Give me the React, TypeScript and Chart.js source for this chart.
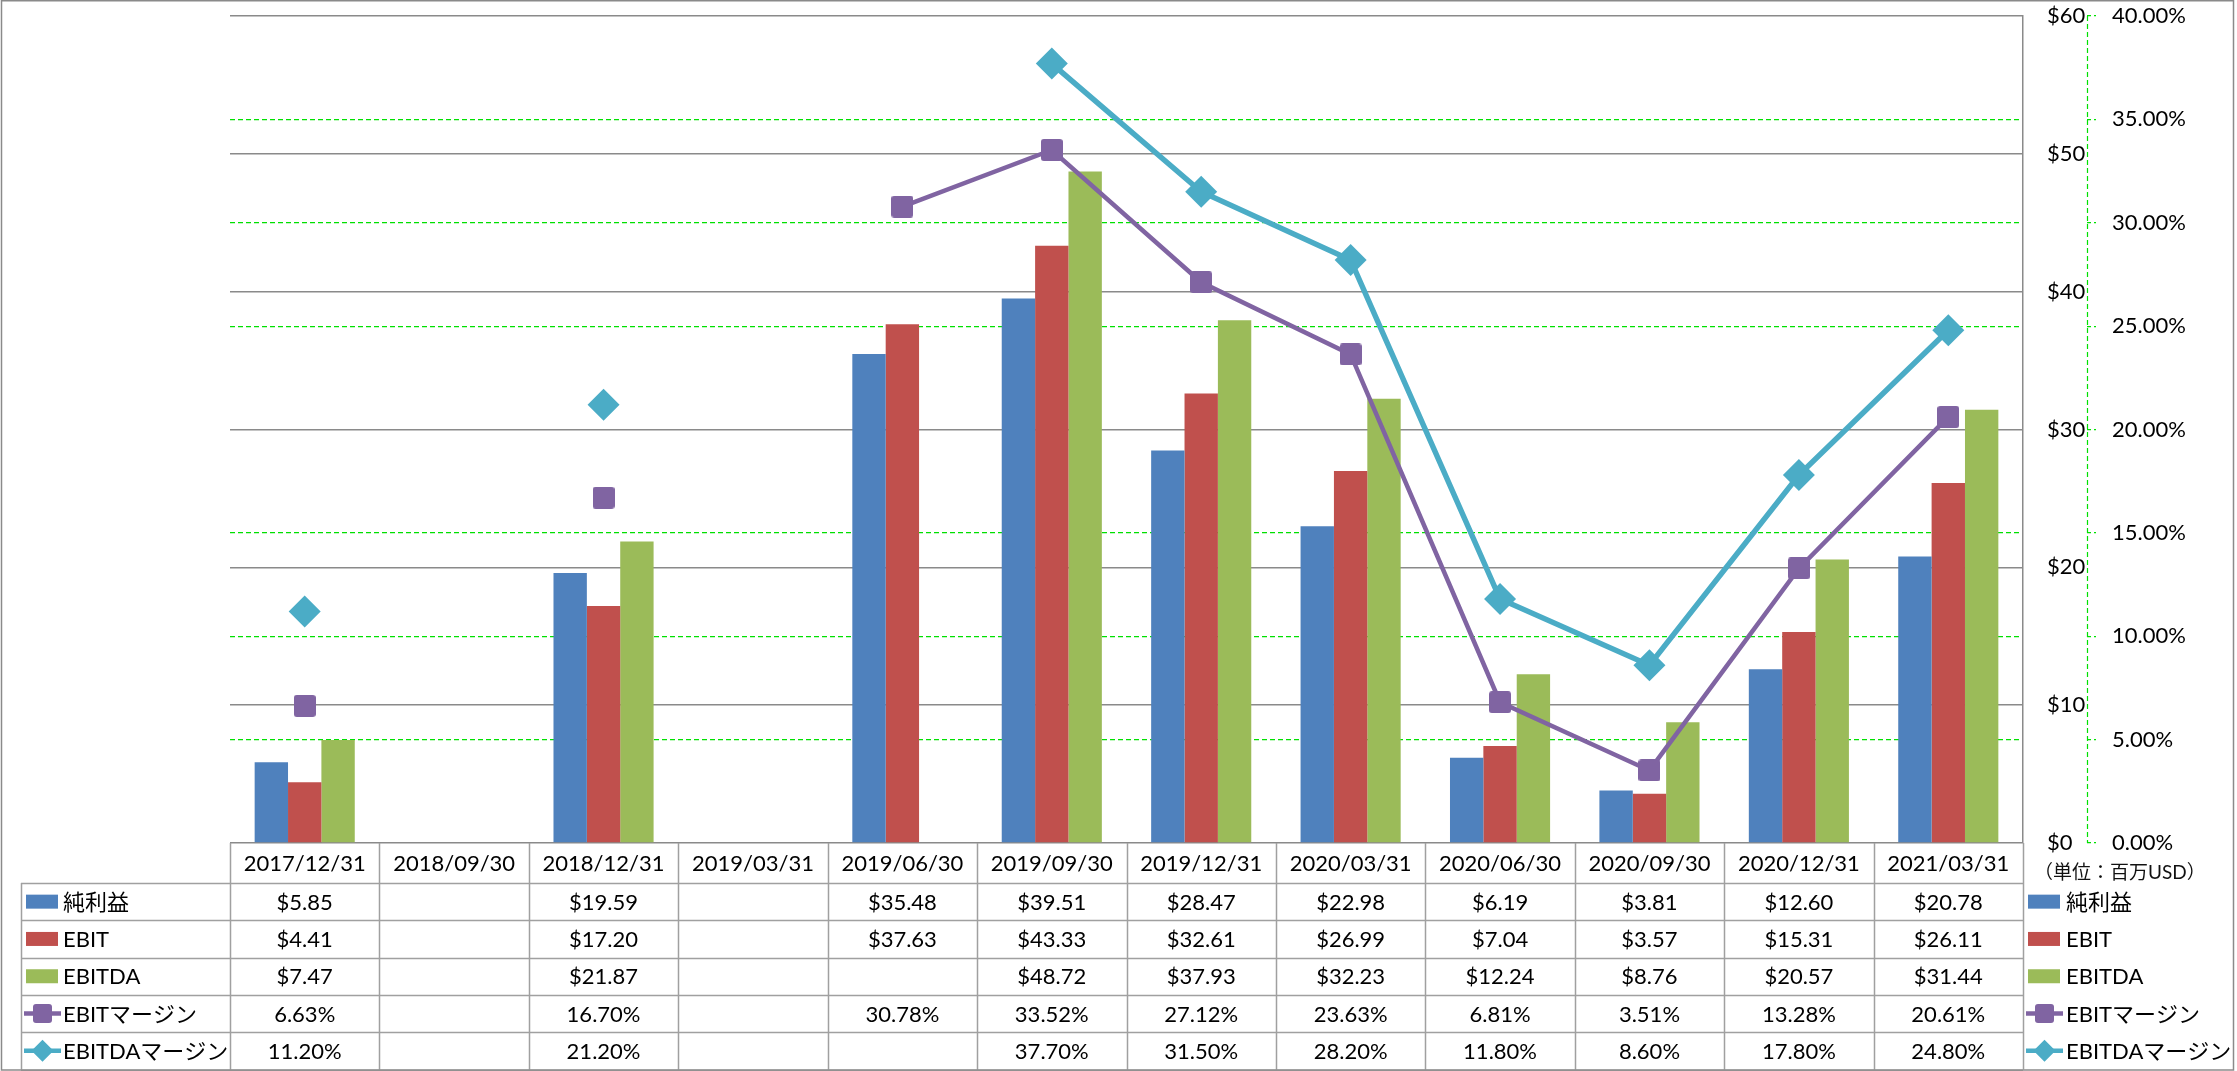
import React, { useEffect, useRef } from 'react';
import { Chart, registerables } from 'chart.js';

Chart.register(...registerables);

const categories = [
  '2017/12/31', '2018/09/30', '2018/12/31', '2019/03/31', '2019/06/30', '2019/09/30',
  '2019/12/31', '2020/03/31', '2020/06/30', '2020/09/30', '2020/12/31', '2021/03/31',
];
const netIncome = [5.85, null, 19.59, null, 35.48, 39.51, 28.47, 22.98, 6.19, 3.81, 12.6, 20.78];
const ebit = [4.41, null, 17.2, null, 37.63, 43.33, 32.61, 26.99, 7.04, 3.57, 15.31, 26.11];
const ebitda = [7.47, null, 21.87, null, null, 48.72, 37.93, 32.23, 12.24, 8.76, 20.57, 31.44];
const ebitMargin = [6.63, null, 16.7, null, 30.78, 33.52, 27.12, 23.63, 6.81, 3.51, 13.28, 20.61];
const ebitdaMargin = [11.2, null, 21.2, null, null, 37.7, 31.5, 28.2, 11.8, 8.6, 17.8, 24.8];

const seriesNames = ['純利益', 'EBIT', 'EBITDA', 'EBITマージン', 'EBITDAマージン'];
const unitLabel = '（単位：百万USD）';

const dollarAxis = { min: 0, max: 60, step: 10 };
const percentAxis = { min: 0, max: 40, step: 5 };

const COLORS = {
  blue: '#4F81BD',
  red: '#C0504D',
  green: '#9BBB59',
  purple: '#8064A2',
  cyan: '#4BACC6',
  grid: '#8A8A8A',
  table: '#A0A0A0',
  dash: '#00E000',
};

const W = 2237;
const H = 1071;
const FONT = 'Lato, "Noto Sans CJK JP", sans-serif';

const fmtDollar = (v: number | null) => (v == null ? '' : '$' + v.toFixed(2));
const fmtPct = (v: number | null) => (v == null ? '' : v.toFixed(2) + '%');

function roundRectPath(g: CanvasRenderingContext2D, l: number, t: number, s: number, r: number) {
  g.beginPath();
  g.moveTo(l + r, t);
  g.lineTo(l + s - r, t);
  g.quadraticCurveTo(l + s, t, l + s, t + r);
  g.lineTo(l + s, t + s - r);
  g.quadraticCurveTo(l + s, t + s, l + s - r, t + s);
  g.lineTo(l + r, t + s);
  g.quadraticCurveTo(l, t + s, l, t + s - r);
  g.lineTo(l, t + r);
  g.quadraticCurveTo(l, t, l + r, t);
  g.closePath();
}

function makeRoundSquare(size: number, r: number, color: string) {
  const c = document.createElement('canvas');
  c.width = size;
  c.height = size;
  const g = c.getContext('2d')!;
  g.fillStyle = color;
  roundRectPath(g, 0, 0, size, r);
  g.fill();
  return c;
}

function drawLegendSymbol(ctx: CanvasRenderingContext2D, idx: number, x0: number, cy: number) {
  const colors = [COLORS.blue, COLORS.red, COLORS.green, COLORS.purple, COLORS.cyan];
  const col = colors[idx];
  ctx.save();
  if (idx < 3) {
    ctx.fillStyle = col;
    ctx.fillRect(x0 + 2, cy - 7, 32, 14);
  } else {
    ctx.strokeStyle = col;
    ctx.lineWidth = 4.5;
    ctx.beginPath();
    ctx.moveTo(x0, cy);
    ctx.lineTo(x0 + 37, cy);
    ctx.stroke();
    ctx.fillStyle = col;
    const cx = x0 + 18.5;
    if (idx === 3) {
      roundRectPath(ctx, cx - 9.5, cy - 9.5, 19, 3);
      ctx.fill();
    } else {
      const d = 11;
      ctx.beginPath();
      ctx.moveTo(cx, cy - d);
      ctx.lineTo(cx + d, cy);
      ctx.lineTo(cx, cy + d);
      ctx.lineTo(cx - d, cy);
      ctx.closePath();
      ctx.fill();
    }
  }
  ctx.restore();
}

const tablePlugin = {
  id: 'dataTable',
  beforeDatasetsDraw(chart: any) {
    const { ctx, chartArea, scales } = chart;
    const x = Math.round(scales.y1.left) + 0.5;
    ctx.save();
    ctx.strokeStyle = COLORS.dash;
    ctx.lineWidth = 1.2;
    ctx.setLineDash([5, 3]);
    ctx.beginPath();
    ctx.moveTo(x, chartArea.top);
    ctx.lineTo(x, chartArea.bottom);
    ctx.stroke();
    ctx.restore();
  },
  afterDraw(chart: any) {
    const { ctx, chartArea, scales } = chart;
    const xs = scales.x;
    const left = chartArea.left;
    const right = chartArea.right;
    const top = chartArea.bottom;
    const n = categories.length;
    const colW = (right - left) / n;
    const headerH = 40;
    const headerBottom = top + headerH;
    const bottom = H - 1.5;
    const rowH = (bottom - headerBottom) / 5;
    const legendLeft = 21;

    ctx.save();
    ctx.strokeStyle = COLORS.table;
    ctx.lineWidth = 1.5;
    ctx.beginPath();
    for (let i = 0; i <= n; i++) {
      const x = Math.round(left + i * colW) + 0.5;
      ctx.moveTo(x, top);
      ctx.lineTo(x, bottom);
    }
    ctx.moveTo(legendLeft + 0.5, headerBottom);
    ctx.lineTo(legendLeft + 0.5, bottom);
    for (let k = 0; k <= 5; k++) {
      const y = Math.round(headerBottom + k * rowH) + 0.5;
      ctx.moveTo(legendLeft, y);
      ctx.lineTo(right, y);
    }
    ctx.stroke();

    ctx.fillStyle = '#000';
    ctx.textBaseline = 'middle';
    ctx.textAlign = 'center';
    ctx.font = '22px ' + FONT;
    for (let i = 0; i < n; i++) {
      const cx = xs.getPixelForValue(i);
      ctx.fillText(categories[i], cx, top + headerH / 2 + 1);
    }
    const rows = [
      netIncome.map(fmtDollar),
      ebit.map(fmtDollar),
      ebitda.map(fmtDollar),
      ebitMargin.map(fmtPct),
      ebitdaMargin.map(fmtPct),
    ];
    rows.forEach((row, r) => {
      const cy = headerBottom + (r + 0.5) * rowH + 1;
      row.forEach((txt, i) => {
        if (txt) ctx.fillText(txt, xs.getPixelForValue(i), cy);
      });
    });

    ctx.textAlign = 'left';
    seriesNames.forEach((name, r) => {
      const cy = headerBottom + (r + 0.5) * rowH;
      drawLegendSymbol(ctx, r, 24, cy);
      ctx.fillStyle = '#000';
      ctx.font = '22px ' + FONT;
      ctx.fillText(name, 63, cy + 1);
    });

    ctx.font = '19px ' + FONT;
    ctx.fillStyle = '#111';
    ctx.fillText(unitLabel, 2034, top + 30);
    seriesNames.forEach((name, r) => {
      const cy = headerBottom + (r + 0.5) * rowH;
      drawLegendSymbol(ctx, r, 2026, cy);
      ctx.fillStyle = '#000';
      ctx.font = '22px ' + FONT;
      ctx.fillText(name, 2066, cy + 1);
    });

    ctx.strokeStyle = COLORS.grid;
    ctx.lineWidth = 1.5;
    ctx.strokeRect(1.5, 0.75, 2232, H - 1.75);
    ctx.restore();
  },
};

export default function App() {
  const ref = useRef<HTMLCanvasElement | null>(null);

  useEffect(() => {
    if (!ref.current) return;
    const square = makeRoundSquare(22, 3, COLORS.purple);
    const chart = new Chart(ref.current, {
      type: 'bar',
      data: {
        labels: categories,
        datasets: [
          {
            type: 'line',
            label: seriesNames[3],
            data: ebitMargin,
            yAxisID: 'y1',
            borderColor: COLORS.purple,
            backgroundColor: COLORS.purple,
            borderWidth: 4.5,
            pointStyle: square as any,
            pointRadius: 11,
            spanGaps: false,
            tension: 0,
            order: 0,
          } as any,
          {
            type: 'line',
            label: seriesNames[4],
            data: ebitdaMargin,
            yAxisID: 'y1',
            borderColor: COLORS.cyan,
            backgroundColor: COLORS.cyan,
            borderWidth: 5.5,
            pointStyle: 'rectRot',
            pointRadius: 16,
            pointBorderWidth: 0,
            spanGaps: false,
            tension: 0,
            order: 0,
          } as any,
          {
            type: 'bar',
            label: seriesNames[0],
            data: netIncome,
            yAxisID: 'y',
            backgroundColor: COLORS.blue,
            order: 1,
          } as any,
          {
            type: 'bar',
            label: seriesNames[1],
            data: ebit,
            yAxisID: 'y',
            backgroundColor: COLORS.red,
            order: 1,
          } as any,
          {
            type: 'bar',
            label: seriesNames[2],
            data: ebitda,
            yAxisID: 'y',
            backgroundColor: COLORS.green,
            order: 1,
          } as any,
        ],
      },
      options: {
        animation: false,
        responsive: false,
        devicePixelRatio: 1,
        layout: { padding: { left: 230, top: 15, bottom: 228, right: 20 } },
        plugins: { legend: { display: false }, tooltip: { enabled: false } },
        datasets: { bar: { categoryPercentage: 0.67, barPercentage: 1 } },
        scales: {
          x: { display: false, offset: true },
          y: {
            position: 'right',
            weight: 0,
            min: dollarAxis.min,
            max: dollarAxis.max,
            ticks: {
              stepSize: dollarAxis.step,
              callback: (v: any) => '$' + v,
              color: '#000',
              font: { family: FONT, size: 22 },
              padding: 24,
            },
            grid: { color: COLORS.grid, lineWidth: 1.5, drawTicks: false },
            border: { display: true, color: COLORS.grid, width: 1.5 },
            afterFit: (s: any) => {
              s.width = 64;
              s.paddingTop = 0;
              s.paddingBottom = 0;
            },
          },
          y1: {
            position: 'right',
            weight: 1,
            min: percentAxis.min,
            max: percentAxis.max,
            ticks: {
              stepSize: percentAxis.step,
              callback: (v: any) => Number(v).toFixed(2) + '%',
              color: '#000',
              font: { family: FONT, size: 22 },
              padding: 16,
            },
            grid: {
              color: (c: any) =>
                c.tick && [0, 20, 40].includes(c.tick.value) ? 'rgba(0,0,0,0)' : COLORS.dash,
              lineWidth: 1.2,
              drawTicks: true,
              tickLength: 9,
              tickColor: COLORS.dash,
              tickWidth: 1.2,
              tickBorderDash: [4, 3],
            },
            border: { display: false, dash: [5, 3] },
            afterFit: (s: any) => {
              s.width = W - 20 - 2087;
              s.paddingTop = 0;
              s.paddingBottom = 0;
            },
          },
        },
      } as any,
      plugins: [tablePlugin],
    });
    return () => chart.destroy();
  }, []);

  return (
    <div style={{ position: 'fixed', left: 0, top: 0, width: W, height: H, background: '#fff' }}>
      <canvas ref={ref} width={W} height={H} style={{ width: W, height: H, display: 'block' }} />
    </div>
  );
}
